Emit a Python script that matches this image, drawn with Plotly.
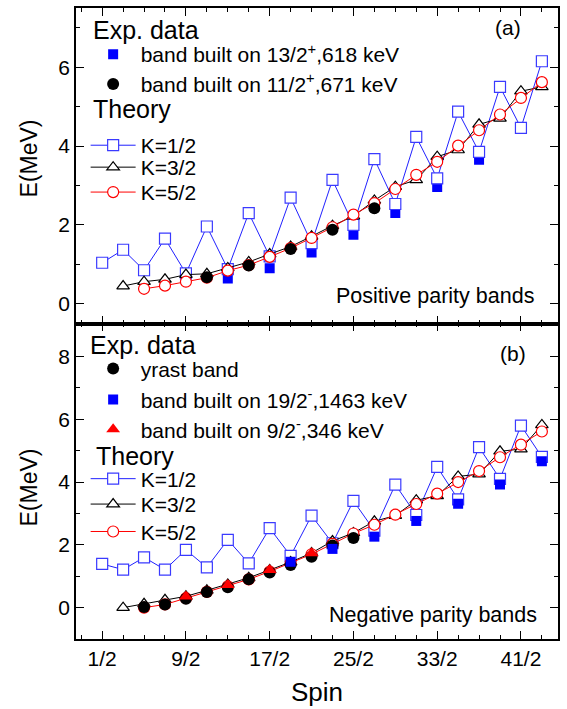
import plotly.graph_objects as go

FONT = "Liberation Sans, Arial, sans-serif"

# ---------------- Panel (a): positive parity ----------------
spin_k12_a = [0.5 + i for i in range(22)]
e_k12_a = [1.04, 1.37, 0.85, 1.65, 0.77, 1.96, 0.88, 2.30, 1.20, 2.69, 1.54,
           3.14, 2.00, 3.67, 2.53, 4.23, 3.18, 4.87, 3.85, 5.50, 4.46, 6.15]
spin_k32_a = [1.5 + i for i in range(21)]
e_k32_a = [0.45, 0.56, 0.62, 0.74, 0.76, 0.91, 1.06, 1.26, 1.45, 1.71, 1.98,
           2.22, 2.62, 2.97, 3.14, 3.73, 3.90, 4.55, 4.70, 5.39, 5.50]
spin_k52_a = [2.5 + i for i in range(20)]
e_k52_a = [0.38, 0.46, 0.56, 0.66, 0.84, 0.98, 1.19, 1.41, 1.67, 1.94, 2.26,
           2.55, 2.91, 3.27, 3.60, 4.01, 4.40, 4.80, 5.22, 5.62]
spin_exp_sq_a = [6.5, 8.5, 10.5, 12.5, 14.5, 16.5, 18.5]
e_exp_sq_a = [0.64, 0.90, 1.30, 1.75, 2.30, 2.96, 3.65]
spin_exp_ci_a = [5.5, 7.5, 9.5, 11.5, 13.5]
e_exp_ci_a = [0.67, 0.97, 1.39, 1.88, 2.42]

# ---------------- Panel (b): negative parity ----------------
spin_k12_b = [0.5 + i for i in range(22)]
e_k12_b = [1.39, 1.21, 1.60, 1.21, 1.84, 1.28, 2.16, 1.41, 2.53, 1.65, 2.93,
           2.05, 3.40, 2.45, 3.92, 2.95, 4.48, 3.45, 5.11, 4.10, 5.80, 4.80]
spin_k32_b = [1.5 + i for i in range(21)]
e_k32_b = [0.00, 0.12, 0.25, 0.36, 0.55, 0.74, 0.95, 1.20, 1.45, 1.74, 2.12,
           2.38, 2.75, 2.93, 3.42, 3.56, 4.18, 4.25, 4.98, 5.05, 5.82]
spin_k52_b = [2.5 + i for i in range(20)]
e_k52_b = [0.00, 0.10, 0.30, 0.50, 0.68, 0.90, 1.15, 1.42, 1.70, 2.03, 2.36,
           2.64, 2.96, 3.30, 3.63, 4.00, 4.35, 4.79, 5.19, 5.61]
spin_yrast_b = [2.5 + i for i in range(11)]
e_yrast_b = [0.02, 0.10, 0.28, 0.50, 0.65, 0.90, 1.12, 1.36, 1.62, 1.98, 2.22]
spin_sq_b = [9.5, 11.5, 13.5, 15.5, 17.5, 19.5, 21.5]
e_sq_b = [1.46, 1.87, 2.26, 2.76, 3.31, 3.92, 4.66]
spin_tri_b = [4.5, 6.5, 8.5, 10.5]
e_tri_b = [0.35, 0.72, 1.20, 1.73]

tick_vals = [0.5, 4.5, 8.5, 12.5, 16.5, 20.5]
tick_text = ["1/2", "9/2", "17/2", "25/2", "33/2", "41/2"]

BLUE_OPEN = "#3a3aff"
BLUE = "#0000ff"
RED = "#ff0000"
BLACK = "#000000"

W, H = 567, 709
ML, MR, MT, MB = 76, 9, 6, 70
PH = H - MT - MB


def py(px):
    """pixel row (from top) -> paper y"""
    return 1 - (px - MT) / PH


def pxx(px):
    return (px - ML) / (W - ML - MR)


fig = go.Figure()
legends = {}


def add_legend(name, ypix):
    legends[name] = dict(x=0.02, y=py(ypix), xanchor="left", yanchor="middle",
                         bgcolor="rgba(0,0,0,0)", font=dict(size=21, family=FONT),
                         itemwidth=45, borderwidth=0)


def theory(x, y, name, color, xa, ya, legend, ypix, symbol, lcolor=None):
    add_legend(legend, ypix)
    fig.add_trace(go.Scatter(
        x=x, y=y, mode="lines+markers", name=name,
        line=dict(color=lcolor or color, width=1),
        marker=dict(symbol=symbol, size=11, color="white",
                    line=dict(color=color, width=1.2)),
        xaxis=xa, yaxis=ya, legend=legend))


def exp(x, y, name, color, symbol, size, xa, ya, legend, ypix):
    add_legend(legend, ypix)
    fig.add_trace(go.Scatter(
        x=x, y=y, mode="markers", name=name,
        marker=dict(symbol=symbol, size=size, color=color,
                    line=dict(color=color, width=0)),
        xaxis=xa, yaxis=ya, legend=legend))


# panel (a) traces -> xaxis2 / yaxis2
exp(spin_exp_sq_a, e_exp_sq_a, "band built on 13/2<sup>+</sup>,618 keV", BLUE,
    "square", 10, "x2", "y2", "legend", 52.7)
theory(spin_k12_a, e_k12_a, "K=1/2", BLUE_OPEN, "x2", "y2", "legend3", 144, "square", lcolor="#2020ff")
theory(spin_k32_a, e_k32_a, "K=3/2", BLACK, "x2", "y2", "legend4", 166, "triangle-up")
theory(spin_k52_a, e_k52_a, "K=5/2", RED, "x2", "y2", "legend5", 191, "circle")
exp(spin_exp_ci_a, e_exp_ci_a, "band built on 11/2<sup>+</sup>,671 keV", BLACK,
    "circle", 12, "x2", "y2", "legend2", 82.7)

# panel (b) traces -> xaxis / yaxis
theory(spin_k12_b, e_k12_b, "K=1/2", BLUE_OPEN, "x", "y", "legend9", 478.5, "square", lcolor="#2020ff")
theory(spin_k32_b, e_k32_b, "K=3/2", BLACK, "x", "y", "legend10", 504, "triangle-up")
theory(spin_k52_b, e_k52_b, "K=5/2", RED, "x", "y", "legend11", 531.5, "circle")
exp(spin_yrast_b, e_yrast_b, "yrast band", BLACK, "circle", 12, "x", "y", "legend6", 368)
exp(spin_sq_b, e_sq_b, "band built on 19/2<sup>-</sup>,1463 keV", BLUE, "square", 10,
    "x", "y", "legend7", 399)
exp(spin_tri_b, e_tri_b, "band built on 9/2<sup>-</sup>,346 keV", RED, "triangle-up", 12,
    "x", "y", "legend8", 429)

axis_common = dict(showline=True, linecolor="black", linewidth=1.5, mirror="ticks",
                   ticks="inside", ticklen=8, tickwidth=1.3, tickcolor="black",
                   showgrid=False, zeroline=False,
                   tickfont=dict(size=21, family=FONT, color="black"))
minor_common = dict(ticks="inside", ticklen=4, tickwidth=1.2, tickcolor="black", showgrid=False)

XR = [-0.75, 22.27]
fig.update_layout(
    width=W, height=H,
    margin=dict(l=ML, r=MR, t=MT, b=MB),
    paper_bgcolor="white", plot_bgcolor="white",
    font=dict(family=FONT, color="black"),
    xaxis=dict(domain=[0, 1], anchor="y", range=XR, tickmode="array",
               tickvals=tick_vals, ticktext=tick_text,
               minor=dict(tick0=0.5, dtick=1, **minor_common), **axis_common),
    xaxis2=dict(domain=[0, 1], anchor="y2", range=XR, matches="x", tickmode="array",
                tickvals=tick_vals, ticktext=tick_text, showticklabels=False,
                minor=dict(tick0=0.5, dtick=1, **minor_common), **axis_common),
    yaxis=dict(domain=[0, 0.5], anchor="x", range=[-1, 9.05], tick0=0, dtick=2,
               minor=dict(tick0=0, dtick=1, **minor_common), **axis_common),
    yaxis2=dict(domain=[0.5, 1], anchor="x2", range=[-0.5, 7.5], tick0=0, dtick=2,
                minor=dict(tick0=0, dtick=1, **minor_common), **axis_common),
    showlegend=True,
    **legends,
)

ann = [
    dict(text="E(MeV)", x=pxx(29), y=py(157), textangle=-90, font=dict(size=23)),
    dict(text="E(MeV)", x=pxx(29), y=py(487), textangle=-90, font=dict(size=23)),
    dict(text="Spin", x=0.5, y=py(692), font=dict(size=26)),
    dict(text="(a)", x=pxx(508), y=py(26), font=dict(size=21)),
    dict(text="(b)", x=pxx(513), y=py(353), font=dict(size=21)),
    dict(text="Positive parity bands", x=pxx(435), y=py(295), font=dict(size=21.5)),
    dict(text="Negative parity bands", x=pxx(433), y=py(615), font=dict(size=21.5)),
    dict(text="Exp. data", x=pxx(91), y=py(28), xanchor="left", font=dict(size=25)),
    dict(text="Theory", x=pxx(91), y=py(107), xanchor="left", font=dict(size=25)),
    dict(text="Exp. data", x=pxx(88), y=py(344), xanchor="left", font=dict(size=25)),
    dict(text="Theory", x=pxx(94), y=py(455), xanchor="left", font=dict(size=25)),
]
for a in ann:
    a.setdefault("xanchor", "center")
    a.update(xref="paper", yref="paper", showarrow=False, yanchor="middle")
    a["font"].update(family=FONT, color="black")
    fig.add_annotation(**a)

fig.write_html("out.html", config={"displayModeBar": False},
               post_script="document.body.style.margin='0';")
